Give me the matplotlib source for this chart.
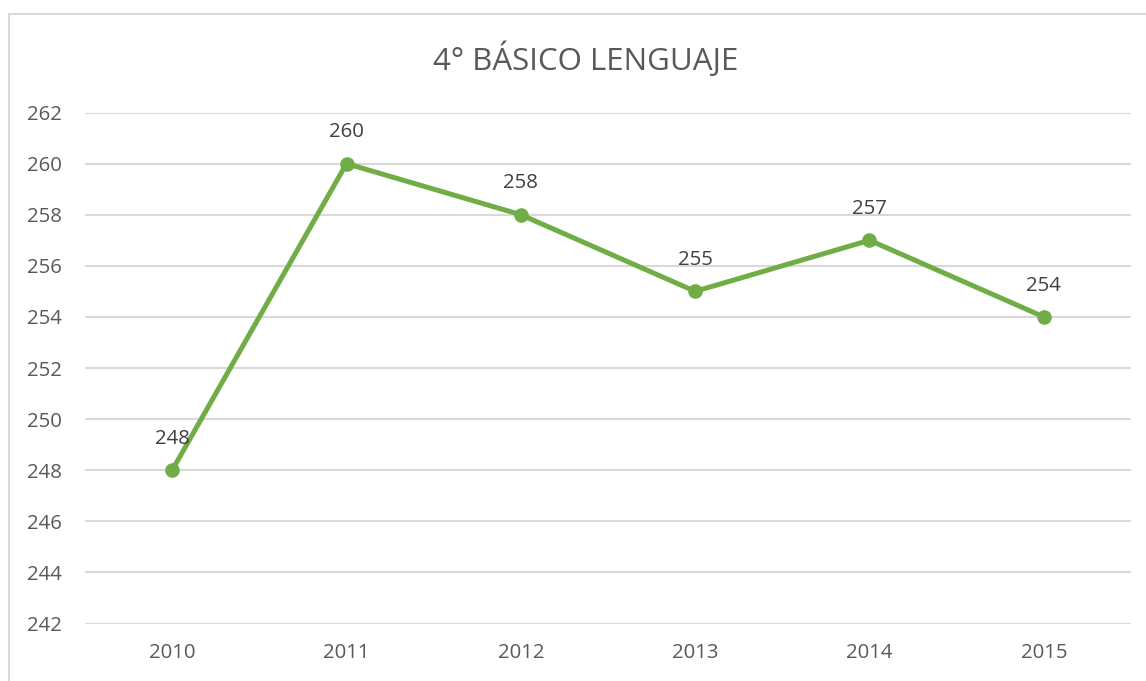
import matplotlib.pyplot as plt
from matplotlib.patches import Rectangle

years = ['2010', '2011', '2012', '2013', '2014', '2015']
scores = [248, 260, 258, 255, 257, 254]
y_ticks = list(range(242, 263, 2))

W, H = 1146, 681
fig = plt.figure(figsize=(W / 100, H / 100), dpi=100)
plt.rcParams['font.family'] = ['Open Sans', 'DejaVu Sans']
text_color = '#595959'
green = '#70AD47'

# light chart border (cropped on right and bottom)
fig.patches.append(Rectangle((9 / W, -0.1), 1.2, 1 - 14 / H + 0.1,
                             transform=fig.transFigure, fill=False,
                             edgecolor='#D9D9D9', linewidth=1.5))

left, right, top, bottom = 85, 1131, 112.5, 623.5
ax = fig.add_axes([left / W, 1 - bottom / H, (right - left) / W, (bottom - top) / H])

x = list(range(len(years)))
ax.plot(x, scores, color=green, linewidth=3.6, marker='o', markersize=9.5,
        solid_capstyle='round', zorder=3)
for xi, v in zip(x, scores):
    ax.annotate(str(v), (xi, v), xytext=(0, 22.5), textcoords='offset points',
                ha='center', va='center', fontsize=14.7, color='#404040')

ax.set_xlim(-0.5, len(years) - 0.5)
ax.set_ylim(242, 262)
ax.set_yticks(y_ticks)
ax.set_xticks(x)
ax.set_xticklabels(years)
ax.grid(axis='y', color='#D9D9D9', linewidth=1.5)
ax.set_axisbelow(True)
for s in ax.spines.values():
    s.set_visible(False)
ax.tick_params(length=0, labelsize=14.7, labelcolor=text_color)
ax.tick_params(axis='y', pad=16.5)
ax.tick_params(axis='x', pad=14)

fig.text(586 / W, 1 - 59 / H, '4° BÁSICO LENGUAJE',
         ha='center', va='center', fontsize=22.5, color=text_color)

fig.savefig('out.png', dpi=100)
